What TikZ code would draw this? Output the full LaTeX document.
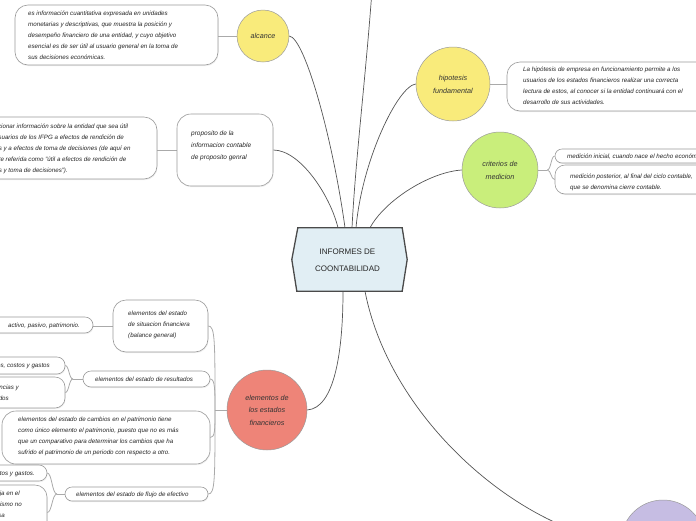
\documentclass[tikz,border=0pt]{standalone}
\usepackage{fontspec}
\setmainfont{Liberation Sans}
\usetikzlibrary{shadows,backgrounds}
\definecolor{boxc}{HTML}{9A9A9A}
\definecolor{linec}{HTML}{555555}
\definecolor{lightc}{HTML}{AAAAAA}
\definecolor{yel}{HTML}{F9EB7B}
\definecolor{grn}{HTML}{C9EE7B}
\definecolor{redc}{HTML}{EE8478}
\definecolor{purc}{HTML}{C6BDE3}
\definecolor{hexf}{HTML}{E1EEF4}
\definecolor{hexd}{HTML}{4A4A4A}
\newcommand\boxfont{\fontsize{6.2}{11}\selectfont\itshape}
\newcommand\bubfont{\fontsize{7.2}{13}\selectfont\itshape}
\begin{document}
\begin{tikzpicture}[x=1pt,y=-1pt,
  box/.style={draw=boxc, fill=white, line width=0.6pt, inner sep=0pt,
    drop shadow={opacity=0.12, shadow xshift=0.6pt, shadow yshift=-1.2pt}},
  txt/.style={inner sep=0pt, align=left, font=\boxfont, text=black!85},
  bubble/.style={circle, draw=boxc, line width=0.5pt, inner sep=0pt, align=center, font=\bubfont, text=black!80},
  conn/.style={draw=linec, line width=0.7pt},
  sconn/.style={draw=lightc, line width=0.8pt}]
\useasboundingbox (0,0) rectangle (696,520);
\clip (0,0) rectangle (696,520);

% ---- boxes ----
\node[box, rounded corners=13pt, minimum width=203pt, minimum height=60pt] (A) at (116.5,35) {};
\node[txt, anchor=west] (At) at (28,35.5) {es información cuantitativa expresada en unidades\\monetarias y descriptivas, que muestra la posición y\\desempeño financiero de una entidad, y cuyo objetivo\\esencial es de ser útil al usuario general en la toma de\\sus decisiones económicas.};

\node[box, rounded corners=13pt, minimum width=217pt, minimum height=62pt] (B) at (48.5,148) {};
\node[txt, anchor=west] (Bt) at (-20,148.5) {proporcionar información sobre la entidad que sea útil\\a los usuarios de los IFPG a efectos de rendición de\\cuentas y a efectos de toma de decisiones (de aquí en\\adelante referida como "útil a efectos de rendición de\\cuentas y toma de decisiones").};

\node[box, rounded corners=14pt, minimum width=96pt, minimum height=72pt] (Pr) at (225,150) {};
\node[txt, anchor=west, font=\fontsize{6.5}{12}\selectfont\itshape] (Prt) at (191,146) {proposito de la\\informacion contable\\de proposito genral};

\node[box, rounded corners=13pt, minimum width=253pt, minimum height=49pt] (Cc) at (633.5,86.5) {};
\node[txt, anchor=west] (Cct) at (523,86) {La hipótesis de empresa en funcionamiento permite a los\\usuarios de los estados financieros realizar una correcta\\lectura de estos, al conocer si la entidad continuará con el\\desarrollo de sus actividades.};

\node[box, rounded corners=7pt, minimum width=205pt, minimum height=14pt] (D1) at (657.5,156) {};
\node[txt, anchor=west] (D1t) at (567,157) {medición inicial, cuando nace el hecho económico.};
\node[box, rounded corners=10pt, minimum width=205pt, minimum height=29pt] (D2) at (657.5,179.5) {};
\node[txt, anchor=west] (D2t) at (570,182) {medición posterior, al final del ciclo contable,\\que se denomina cierre contable.};

\node[box, rounded corners=13pt, minimum width=95pt, minimum height=52pt] (E1) at (160.5,326) {};
\node[txt, anchor=west] (E1t) at (128,325) {elementos del estado\\de situacion financiera\\(balance general)};
\node[box, rounded corners=8pt, minimum width=113pt, minimum height=16pt] (E1c) at (36.5,325) {};
\node[txt, anchor=west] (E1ct) at (8,325.5) {activo, pasivo, patrimonio.};

\node[box, rounded corners=8pt, minimum width=127pt, minimum height=16pt] (E2) at (146.5,379) {};
\node[txt, anchor=west] (E2t) at (95,379.5) {elementos del estado de resultados};
\node[box, rounded corners=8pt, minimum width=105pt, minimum height=17pt] (E2a) at (12.5,365.5) {};
\node[txt, anchor=east] (E2at) at (50,366) {ingresos, costos y gastos};
\node[box, rounded corners=10pt, minimum width=105pt, minimum height=31pt] (E2b) at (12.5,392.5) {};
\node[txt, anchor=east] (E2bt1) at (19,387.5) {ganancias y};
\node[txt, anchor=east] (E2bt2) at (9,398.5) {realizados};

\node[box, rounded corners=14pt, minimum width=208pt, minimum height=53pt] (E3) at (106,437.5) {};
\node[txt, anchor=west] (E3t) at (18,436.5) {elementos del estado de cambios en el patrimonio tiene\\como único elemento el patrimonio, puesto que no es más\\que un comparativo para determinar los cambios que ha\\sufrido el patrimonio de un periodo con respecto a otro.};

\node[box, rounded corners=7pt, minimum width=143pt, minimum height=14pt] (E4) at (136.5,494) {};
\node[txt, anchor=west] (E4t) at (76,494.5) {elementos del estado de flujo de efectivo};
\node[box, rounded corners=8pt, minimum width=107pt, minimum height=16pt] (E4a) at (-6.5,473) {};
\node[txt, anchor=east] (E4at) at (35,473.5) {ingresos, costos y gastos.};
\node[box, rounded corners=12pt, minimum width=107pt, minimum height=55pt] (E4b) at (-6.5,512.5) {};
\node[txt, anchor=east] (E4bt1) at (20,493.5) {que se refleja en el};
\node[txt, anchor=east] (E4bt2) at (22,504.5) {el mismo no};
\node[txt, anchor=east] (E4bt3) at (5,515.5) {causa};

% ---- bubbles ----
\node[bubble, fill=yel, minimum size=52pt] (Al) at (263,36) {alcance};
\node[bubble, fill=yel, minimum size=74pt] (H) at (453,84) {hipotesis\\fundamental};
\node[bubble, fill=grn, minimum size=76pt] (Cr) at (500,170) {criterios de\\medicion};
\node[bubble, fill=redc, minimum size=80pt, font=\fontsize{7.2}{12.5}\selectfont\itshape] (El) at (267,410) {elementos de\\los estados\\financieros};
\node[bubble, fill=purc, minimum size=84pt] (P) at (663,542) {};

% ---- central node ----
\node[inner sep=0pt, minimum width=115pt, minimum height=63pt] (C) at (349.5,259.5) {};
\filldraw[fill=hexf, draw=hexd, line width=1.3pt]
  ([xshift=6pt]C.north west) -- ([xshift=-5pt]C.north east) -- (C.east)
  -- ([xshift=-5pt]C.south east) -- ([xshift=5pt]C.south west) -- (C.west) -- cycle;
\node[inner sep=0pt, align=center, font=\fontsize{8}{17}\selectfont, text=black!85] (Ct) at (347.5,260.5) {INFORMES DE\\COONTABILIDAD};

\coordinate (T) at (374,-40);

% ---- connectors ----
\begin{scope}[on background layer]
\draw[sconn] (Al.west) -- (A.east |- Al.west);
\draw[sconn] (Pr.west) -- (B.east |- Pr.west);
\draw[sconn] (H.east) -- (H.east -| Cc.west);
\draw[sconn] (Cr.east) -- ++(9,0) coordinate (cj);
\draw[sconn] (cj) .. controls (551,170) and (551,156) .. (D1.west);
\draw[sconn] (cj) .. controls (551,170) and (551,179.5) .. (D2.west);
\draw[sconn] (El.west) -- (215,410) coordinate (ej);
\draw[sconn] (ej) .. controls (215,340) and (215,326) .. (E1.east);
\draw[sconn] (ej) .. controls (215,390) and (215,379) .. (E2.east);
\draw[sconn] (ej) .. controls (215,430) and (215,437.5) .. (E3.east);
\draw[sconn] (ej) .. controls (215,480) and (215,494) .. (E4.east);
\draw[sconn] (E1.west) -- (E1c.east |- E1.west);
\draw[sconn] (E2.west) -- (73,379) coordinate (e2j);
\draw[sconn] (e2j) .. controls (69,379) and (69,365.5) .. (E2a.east);
\draw[sconn] (e2j) .. controls (69,379) and (69,392.5) .. (E2b.east);
\draw[sconn] (E4.west) -- (57,494) coordinate (e4j);
\draw[sconn] (e4j) .. controls (52,494) and (52,473) .. (E4a.east);
\draw[sconn] (e4j) .. controls (52,494) and (52,512.5) .. (E4b.east);

\draw[conn] (Al.east) .. controls (305,38) and (333,140) .. ([xshift=-4.5pt]C.north);
\draw[conn] (Pr.east) .. controls (300,150) and (330,195) .. ([xshift=-11.5pt]C.north);
\draw[conn] (T) .. controls (368,60) and (356,150) .. ([xshift=2.5pt]C.north);
\draw[conn] (H.west) .. controls (398,86) and (362,160) .. ([xshift=6.5pt]C.north);
\draw[conn] (Cr.west) .. controls (430,172) and (385,200) .. ([xshift=20.5pt]C.north);
\draw[conn] ([xshift=-6.5pt]C.south) .. controls (343,350) and (335,408) .. (El.east);
\draw[conn] ([xshift=15.5pt]C.south) .. controls (390,420) and (520,530) .. (P.west);
\end{scope}
\end{tikzpicture}
\end{document}
